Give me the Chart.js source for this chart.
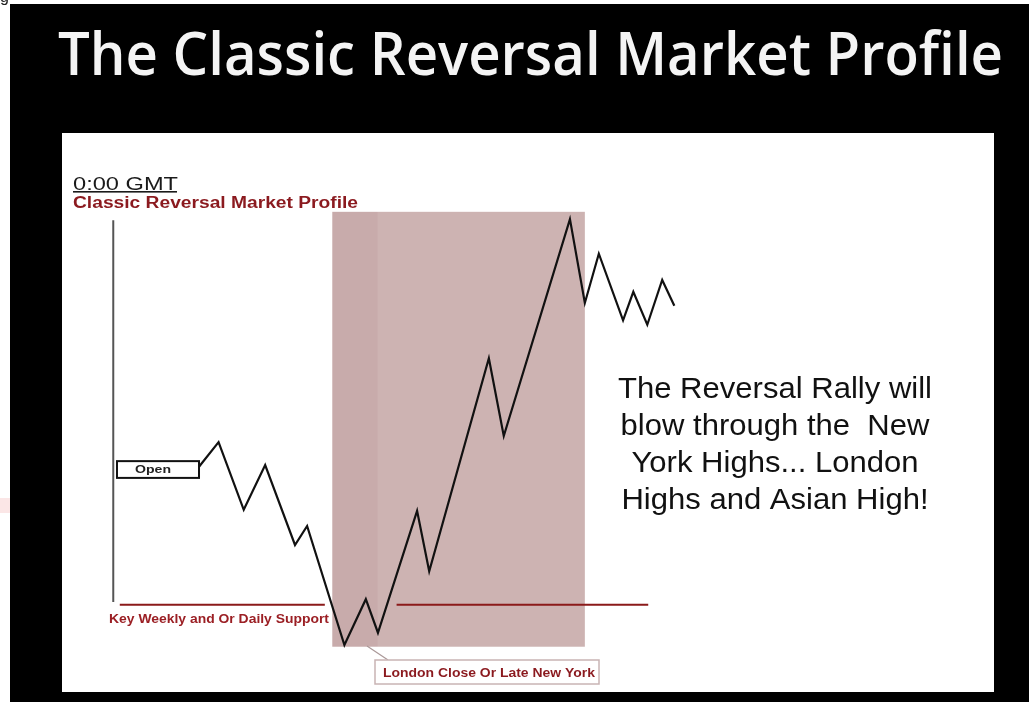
<!DOCTYPE html>
<html>
<head>
<meta charset="utf-8">
<script src="https://cdn.jsdelivr.net/npm/chart.js@4.4.0/dist/chart.umd.min.js"></script>
<style>
  html, body { margin: 0; padding: 0; background: #fff; overflow: hidden; }
  canvas { display: block; }
</style>
</head>
<body>
<canvas id="myChart" width="1029" height="702"></canvas>
<script>
// price path: time (0-100 across the panel) and price (0-100 up the panel)
const times  = [14.7, 16.8, 19.5, 21.8, 25.0, 26.3, 30.3, 32.6, 33.9, 38.1, 39.4,
                45.8, 47.4, 54.5, 56.1, 57.6, 60.2, 61.3, 62.8, 64.4, 65.7];
const prices = [40.3, 44.7, 32.6, 40.6, 26.3, 29.7, 8.4, 16.6, 10.6, 32.4, 21.6,
                59.7, 45.8, 84.6, 69.6, 78.4, 66.5, 71.6, 65.7, 73.7, 69.1];

// key weekly / daily support level and the two stretches where it is drawn
const supportLevel = 15.6;
const supportLeft  = [6.2, 28.2];
const supportRight = [35.9, 62.9];

// London close / late New York session (time span + price span)
const sessionTimes  = [29.0, 33.9, 56.1];
const sessionPrices = [8.1, 85.9];

// 0:00 GMT marker and the open level
const gmtTime   = 5.5;
const gmtPrices = [16.1, 84.4];
const openTimes  = [5.9, 14.7];
const openPrices = [38.3, 41.3];

const titleText = 'The Classic Reversal Market Profile';
const noteLines = ['The Reversal Rally will', 'blow through the  New',
                   'York Highs... London', 'Highs and Asian High!'];

let ctx = document.getElementById('myChart');

// draw text squeezed / stretched to a given width
function fitText(c, text, x, y, width, font, align) {
  c.save();
  c.font = font;
  let w = c.measureText(text).width;
  let sx = width / w;
  c.translate(x, y);
  c.scale(sx, 1);
  c.textAlign = align || 'left';
  c.fillText(text, 0, 0);
  c.restore();
}

const backdrop = {
  id: 'backdrop',
  beforeDraw(chart) {
    const c = chart.ctx;
    const a = chart.chartArea;
    c.save();
    c.fillStyle = '#ffffff';
    c.fillRect(0, 0, chart.width, chart.height);
    c.fillStyle = '#fbe6e6';
    c.fillRect(0, 498, 10, 15);
    c.fillStyle = '#000000';
    c.fillRect(10, 4, chart.width - 10, chart.height - 4);
    c.fillStyle = '#ffffff';
    c.fillRect(a.left, a.top, a.right - a.left, a.bottom - a.top);
    // stray glyph at the very top-left
    c.fillStyle = '#222';
    c.font = '16px "Liberation Sans"';
    c.fillText('g', 0, 2);
    c.restore();
  },
  beforeDatasetsDraw(chart) {
    const c = chart.ctx;
    const xs = chart.scales.x, ys = chart.scales.y;
    const x0 = xs.getPixelForValue(sessionTimes[0]);
    const x1 = xs.getPixelForValue(sessionTimes[1]);
    const x2 = xs.getPixelForValue(sessionTimes[2]);
    const yTop = ys.getPixelForValue(sessionPrices[1]);
    const yBot = ys.getPixelForValue(sessionPrices[0]);
    c.save();
    c.fillStyle = '#c8abab';
    c.fillRect(x0, yTop, x1 - x0, yBot - yTop);
    c.fillStyle = '#cdb3b2';
    c.fillRect(x1, yTop, x2 - x1, yBot - yTop);
    c.restore();
  },
  afterDraw(chart) {
    const c = chart.ctx;
    const xs = chart.scales.x, ys = chart.scales.y;
    c.save();

    // title, grey bevel look
    let g = c.createLinearGradient(0, 32, 0, 76);
    g.addColorStop(0, '#f4f4f4');
    g.addColorStop(0.35, '#d6d6d6');
    g.addColorStop(0.7, '#c4c4c4');
    g.addColorStop(1, '#8e8e8e');
    c.fillStyle = g;
    fitText(c, titleText, 58, 75, 945, '600 60px "Open Sans"');

    // header texts
    c.fillStyle = '#1a1a1a';
    fitText(c, '0:00 GMT', 73, 190, 105, '18px "Liberation Sans"');
    c.fillRect(73, 191, 104, 1.6);
    c.fillStyle = '#8b1a1f';
    fitText(c, 'Classic Reversal Market Profile', 73, 208, 285, 'bold 16px "Liberation Sans"');

    // open box
    const ox0 = xs.getPixelForValue(openTimes[0]);
    const ox1 = xs.getPixelForValue(openTimes[1]);
    const oy0 = ys.getPixelForValue(openPrices[1]);
    const oy1 = ys.getPixelForValue(openPrices[0]);
    c.fillStyle = '#ffffff';
    c.fillRect(ox0, oy0, ox1 - ox0, oy1 - oy0);
    c.strokeStyle = '#111';
    c.lineWidth = 2;
    c.strokeRect(ox0, oy0, ox1 - ox0, oy1 - oy0);
    c.fillStyle = '#222';
    fitText(c, 'Open', 135, 473, 36, 'bold 11px "Liberation Sans"');

    // support label
    c.fillStyle = '#9b1f24';
    fitText(c, 'Key Weekly and Or Daily Support', 109, 623, 220, 'bold 13px "Liberation Sans"');

    // session label with connector
    c.strokeStyle = '#a99797';
    c.lineWidth = 1.2;
    c.beginPath();
    c.moveTo(367, 646);
    c.lineTo(388, 660);
    c.stroke();
    c.fillStyle = '#ffffff';
    c.fillRect(375, 660, 224, 24);
    c.strokeStyle = '#c9b4b4';
    c.lineWidth = 1.5;
    c.strokeRect(375, 660, 224, 24);
    c.fillStyle = '#8b1a1f';
    fitText(c, 'London Close Or Late New York', 383, 677, 212, 'bold 13px "Liberation Sans"');

    // note on the right
    c.fillStyle = '#111';
    c.font = '29px "Liberation Sans"';
    let sx = 314 / c.measureText(noteLines[0]).width;
    noteLines.forEach(function(line, i) {
      c.save();
      c.translate(775, 398 + i * 37);
      c.scale(sx, 1);
      c.textAlign = 'center';
      c.fillText(line, 0, 0);
      c.restore();
    });
    c.restore();
  }
};

let myChart = new Chart(ctx, {
  type: 'line',
  data: {
    datasets: [{
      label: 'Price',
      data: times.map((t, i) => ({ x: t, y: prices[i] })),
      borderColor: '#111111',
      borderWidth: 2.2,
      pointRadius: 0,
      tension: 0
    }, {
      label: 'Support',
      data: [
        { x: supportLeft[0], y: supportLevel }, { x: supportLeft[1], y: supportLevel },
        { x: (supportLeft[1] + supportRight[0]) / 2, y: null },
        { x: supportRight[0], y: supportLevel }, { x: supportRight[1], y: supportLevel }
      ],
      borderColor: '#8b1a1a',
      borderWidth: 2,
      pointRadius: 0,
      spanGaps: false
    }, {
      label: '0:00 GMT',
      data: [{ x: gmtTime, y: gmtPrices[0] }, { x: gmtTime, y: gmtPrices[1] }],
      borderColor: '#555555',
      borderWidth: 2,
      pointRadius: 0
    }]
  },
  options: {
    responsive: false,
    animation: false,
    events: [],
    layout: { padding: { left: 62, right: 35, top: 133, bottom: 10 } },
    scales: {
      x: { type: 'linear', min: 0, max: 100, display: false },
      y: { type: 'linear', min: 0, max: 100, display: false }
    },
    plugins: {
      legend: { display: false },
      tooltip: { enabled: false }
    }
  },
  plugins: [backdrop]
});
</script>
</body>
</html>
